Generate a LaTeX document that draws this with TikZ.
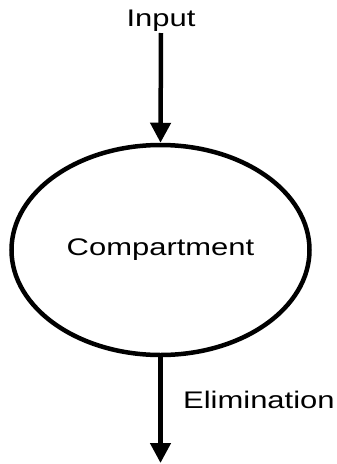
\documentclass[tikz,border=0pt]{standalone}
\usepackage{fontspec}
\setmainfont[FakeStretch=1.29]{Liberation Sans}
\usetikzlibrary{arrows.meta,shapes.geometric}
\begin{document}
\begin{tikzpicture}[x=1pt,y=-1pt,
  lbl/.style={inner sep=0pt,font=\fontsize{24}{28}\selectfont},
  flow/.style={line width=4.5pt,-{Triangle[width=20pt,length=20pt]}},
  comp/.style={draw,ellipse,line width=4.5pt,inner sep=0pt,minimum width=298pt,minimum height=210pt,font=\fontsize{24}{28}\selectfont}]
\useasboundingbox (0,0) rectangle (337,464);
\node[comp] (c) at (160.5,250) {Compartment};
\node[lbl,anchor=base] (input) at (161,26) {Input};
\node[lbl,anchor=base west] (elim) at (183,408) {Elimination};
\coordinate (src) at (161,33);
\coordinate (sink) at (160.5,463);
\draw[flow] (src) -- (c.north);
\draw[flow] (c.south) -- (sink);
\end{tikzpicture}
\end{document}
